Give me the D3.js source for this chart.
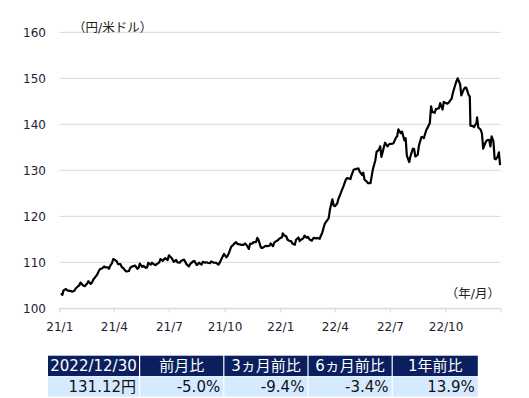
<!DOCTYPE html>
<html>
<head>
<meta charset="utf-8">
<script src="https://cdn.jsdelivr.net/npm/d3@7"></script>
<style>
  body { margin: 0; background: #fff; }
  svg text { font-family: "DejaVu Sans", "Noto Sans CJK JP", sans-serif; }
</style>
</head>
<body>
<div id="chart"></div>
<script>
// USD/JPY daily-ish readings, 2021/1 - 2022/12
const dates2021 = [
  "2021-01-04","2021-01-06","2021-01-08","2021-01-12","2021-01-14","2021-01-18","2021-01-20","2021-01-22","2021-01-26","2021-01-28",
  "2021-02-01","2021-02-03","2021-02-05","2021-02-09","2021-02-12","2021-02-16","2021-02-18","2021-02-22","2021-02-24","2021-02-26",
  "2021-03-02","2021-03-04","2021-03-08","2021-03-10","2021-03-12","2021-03-16","2021-03-18","2021-03-22","2021-03-24","2021-03-26","2021-03-29","2021-03-31",
  "2021-04-02","2021-04-06","2021-04-08","2021-04-12","2021-04-14","2021-04-16","2021-04-20","2021-04-22","2021-04-26","2021-04-28","2021-04-30",
  "2021-05-06","2021-05-10","2021-05-12","2021-05-14","2021-05-18","2021-05-20","2021-05-24","2021-05-26","2021-05-28",
  "2021-06-01","2021-06-03","2021-06-07","2021-06-09","2021-06-11","2021-06-15","2021-06-17","2021-06-21","2021-06-23","2021-06-25","2021-06-29",
  "2021-07-01","2021-07-05","2021-07-07","2021-07-09","2021-07-13","2021-07-15","2021-07-19","2021-07-21","2021-07-26","2021-07-28","2021-07-30",
  "2021-08-03","2021-08-05","2021-08-10","2021-08-12","2021-08-16","2021-08-18","2021-08-20","2021-08-24","2021-08-26","2021-08-30",
  "2021-09-01","2021-09-03","2021-09-07","2021-09-09","2021-09-13","2021-09-15","2021-09-17","2021-09-21","2021-09-24","2021-09-28","2021-09-30",
  "2021-10-04","2021-10-06","2021-10-08","2021-10-12","2021-10-14","2021-10-18","2021-10-20","2021-10-22","2021-10-26","2021-10-28",
  "2021-11-01","2021-11-04","2021-11-08","2021-11-10","2021-11-12","2021-11-16","2021-11-18","2021-11-22","2021-11-24","2021-11-26","2021-11-30",
  "2021-12-02","2021-12-06","2021-12-08","2021-12-10","2021-12-14","2021-12-16","2021-12-20","2021-12-22","2021-12-24","2021-12-28","2021-12-30"
];
const rates2021 = [
  103.3,102.9,103.9,104.2,103.9,103.8,103.8,103.6,103.8,104.3,
  104.8,105.0,105.6,105.0,104.8,105.4,105.9,105.3,105.6,106.2,
  106.9,107.2,108.3,108.6,108.6,109.1,108.9,108.9,108.6,109.2,109.8,110.7,
  110.6,110.2,109.6,109.6,109.0,108.8,108.2,108.0,108.1,108.8,109.0,
  109.3,108.6,108.8,109.7,109.0,109.2,108.8,108.9,109.9,
  109.5,109.9,109.5,109.4,109.6,110.0,110.7,110.3,110.7,110.9,110.5,
  111.5,111.0,110.6,110.1,110.5,110.0,109.9,110.3,110.6,110.1,109.6,
  109.1,109.6,110.2,110.3,109.4,109.6,109.9,109.5,110.1,109.9,
  110.0,109.9,109.8,110.2,109.9,109.9,109.9,109.5,110.2,111.3,111.8,
  111.1,111.4,112.0,113.4,113.6,114.2,114.4,114.0,113.9,113.8,
  113.8,114.1,113.4,112.9,114.0,114.1,114.4,114.4,115.3,114.9,113.2,
  113.1,113.4,113.6,113.5,113.6,114.1,113.5,114.3,114.5,114.8,115.1
];
const dates2022 = [
  "2022-01-04","2022-01-05","2022-01-07","2022-01-11","2022-01-13","2022-01-17","2022-01-19","2022-01-21","2022-01-25","2022-01-27","2022-01-31",
  "2022-02-02","2022-02-04","2022-02-08","2022-02-10","2022-02-14","2022-02-16","2022-02-18","2022-02-22","2022-02-25",
  "2022-03-01","2022-03-03","2022-03-07","2022-03-09","2022-03-11","2022-03-15","2022-03-17","2022-03-22","2022-03-24","2022-03-28","2022-03-30",
  "2022-04-01","2022-04-05","2022-04-07","2022-04-11","2022-04-13","2022-04-15","2022-04-19","2022-04-21","2022-04-25","2022-04-27","2022-04-28",
  "2022-05-02","2022-05-06","2022-05-10","2022-05-12","2022-05-16","2022-05-18","2022-05-20","2022-05-24","2022-05-26","2022-05-30",
  "2022-06-01","2022-06-03","2022-06-07","2022-06-09","2022-06-13","2022-06-15","2022-06-17","2022-06-21","2022-06-23","2022-06-27","2022-06-30",
  "2022-07-05","2022-07-07","2022-07-11","2022-07-13","2022-07-15","2022-07-19","2022-07-21","2022-07-25","2022-07-27","2022-07-29",
  "2022-08-02","2022-08-04","2022-08-08","2022-08-10","2022-08-12","2022-08-16","2022-08-18","2022-08-22","2022-08-24","2022-08-26","2022-08-30",
  "2022-09-01","2022-09-05","2022-09-07","2022-09-09","2022-09-13","2022-09-15","2022-09-20","2022-09-22","2022-09-26","2022-09-28","2022-09-30",
  "2022-10-04","2022-10-06","2022-10-11","2022-10-13","2022-10-17","2022-10-19","2022-10-21","2022-10-25","2022-10-27","2022-10-31",
  "2022-11-02","2022-11-04","2022-11-08","2022-11-10","2022-11-11","2022-11-15","2022-11-17","2022-11-21","2022-11-22","2022-11-24","2022-11-28","2022-11-30",
  "2022-12-01","2022-12-02","2022-12-06","2022-12-08","2022-12-12","2022-12-14","2022-12-16","2022-12-19","2022-12-21","2022-12-23","2022-12-26","2022-12-28","2022-12-30"
];
const rates2022 = [
  115.5,116.3,115.9,115.6,114.9,114.6,114.6,114.1,113.8,114.9,115.4,
  114.6,114.9,115.2,115.8,115.3,115.5,115.0,114.7,115.3,
  115.2,115.3,115.1,115.8,116.3,118.2,118.7,119.6,121.5,123.7,122.4,
  122.2,122.8,123.8,125.1,125.8,126.4,127.9,128.3,128.2,128.1,128.7,
  130.1,130.3,130.4,129.7,129.0,129.5,128.0,127.5,127.2,127.2,
  128.8,130.3,132.2,134.0,134.5,135.2,132.9,135.0,136.0,135.2,135.7,
  135.8,135.9,137.1,137.4,138.9,138.1,138.4,136.5,137.0,133.2,
  131.8,133.1,134.7,134.6,133.0,133.4,135.4,137.2,137.2,137.0,138.7,
  139.2,140.3,143.9,142.7,142.5,143.3,143.5,144.6,143.2,144.9,144.7,
  144.5,144.7,145.6,146.8,148.6,149.4,150.0,148.7,146.3,147.6,
  148.0,148.0,146.4,146.0,139.7,139.6,139.4,140.3,141.5,139.3,138.8,138.0,
  136.5,134.7,136.1,136.5,136.6,135.2,137.4,136.3,132.5,132.4,133.0,133.9,131.12
];

const yTicks = [100, 110, 120, 130, 140, 150, 160];
const tableHeaders = ["2022/12/30", "前月比", "3ヵ月前比", "6ヵ月前比", "1年前比"];
const tableValues = ["131.12円", "-5.0%", "-9.4%", "-3.4%", "13.9%"];

const width = 529;
const height = 398;
const parse = d3.timeParse("%Y-%m-%d");

const series = dates2021.concat(dates2022).map((d, i) => ({
  date: parse(d),
  value: rates2021.concat(rates2022)[i]
}));

const svg = d3.select("#chart").append("svg")
  .attr("width", width)
  .attr("height", height);

const x = d3.scaleTime()
  .domain([parse("2021-01-01"), parse("2022-12-31")])
  .range([59.3, 500.7]);

const y = d3.scaleLinear()
  .domain([100, 160])
  .range([308.3, 32.3]);

// horizontal grid lines
svg.append("g")
  .selectAll("line")
  .data(yTicks)
  .join("line")
  .attr("x1", x.range()[0])
  .attr("x2", x.range()[1])
  .attr("y1", (d) => y(d))
  .attr("y2", (d) => y(d))
  .attr("stroke", "#d9d9d9")
  .attr("stroke-width", 1);

// y labels
svg.append("g")
  .selectAll("text")
  .data(yTicks)
  .join("text")
  .attr("x", 46)
  .attr("y", (d) => y(d))
  .attr("dy", "0.36em")
  .attr("text-anchor", "end")
  .attr("font-size", "12px")
  .attr("fill", "#1e1e2e")
  .text((d) => d);

// x axis
const xAxis = svg.append("g")
  .attr("transform", `translate(0, ${y(100)})`)
  .call(
    d3.axisBottom(x)
      .ticks(d3.timeMonth.every(3))
      .tickFormat(d3.timeFormat("%y/%-m"))
      .tickSize(4)
      .tickPadding(10)
  );

xAxis.select(".domain").attr("stroke", "#d9d9d9");
xAxis.selectAll(".tick line").attr("stroke", "#d9d9d9");
xAxis.selectAll(".tick text")
  .attr("font-size", "12px")
  .attr("font-family", null)
  .attr("fill", "#1e1e2e");

// the rate line
const line = d3.line()
  .x((d) => x(d.date))
  .y((d) => y(d.value));

svg.append("path")
  .datum(series)
  .attr("d", line)
  .attr("fill", "none")
  .attr("stroke", "#000")
  .attr("stroke-width", 2.2)
  .attr("stroke-linejoin", "round");

// unit labels
svg.append("text")
  .attr("x", 73)
  .attr("y", 27)
  .attr("dy", "0.36em")
  .attr("font-size", "12.5px")
  .attr("fill", "#222")
  .text("（円/米ドル）");

svg.append("text")
  .attr("x", 500)
  .attr("y", 293)
  .attr("dy", "0.36em")
  .attr("text-anchor", "end")
  .attr("font-size", "12.5px")
  .attr("fill", "#222")
  .text("（年/月）");

// summary table
const colWidths = [91, 83, 83, 83, 85];
const colX = colWidths.map((w, i) => 48 + d3.sum(colWidths.slice(0, i)) + i * 1.2);
const rowTop = [355.7, 376.3];
const rowH = 20.3;

const table = svg.append("g");

table.selectAll("rect.head")
  .data(tableHeaders)
  .join("rect")
  .attr("class", "head")
  .attr("x", (_d, i) => colX[i])
  .attr("y", rowTop[0])
  .attr("width", (_d, i) => colWidths[i])
  .attr("height", rowH)
  .attr("fill", "#0b1f5e");

table.selectAll("rect.val")
  .data(tableValues)
  .join("rect")
  .attr("class", "val")
  .attr("x", (_d, i) => colX[i])
  .attr("y", rowTop[1])
  .attr("width", (_d, i) => colWidths[i])
  .attr("height", rowH)
  .attr("fill", "#d6eaff");

table.selectAll("text.head")
  .data(tableHeaders)
  .join("text")
  .attr("class", "head")
  .attr("x", (_d, i) => colX[i] + colWidths[i] / 2)
  .attr("y", rowTop[0] + rowH / 2)
  .attr("dy", "0.36em")
  .attr("text-anchor", "middle")
  .attr("font-size", "15px")
  .attr("fill", "#fff")
  .text((d) => d);

table.selectAll("text.val")
  .data(tableValues)
  .join("text")
  .attr("class", "val")
  .attr("x", (_d, i) => colX[i] + colWidths[i] - 3)
  .attr("y", rowTop[1] + rowH / 2)
  .attr("dy", "0.36em")
  .attr("text-anchor", "end")
  .attr("font-size", "15px")
  .attr("fill", "#111")
  .text((d) => d);
</script>
</body>
</html>
